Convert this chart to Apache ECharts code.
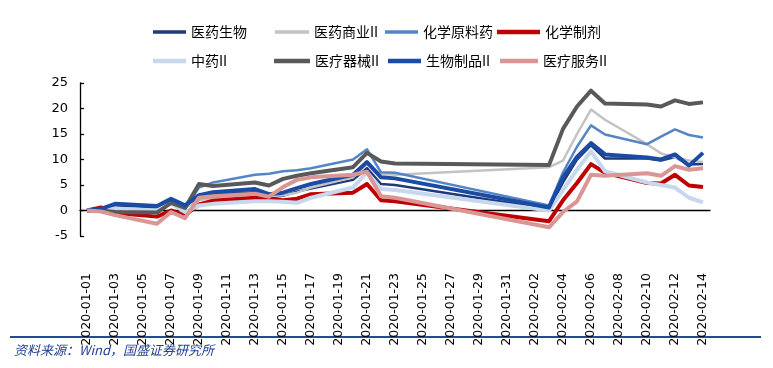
<!DOCTYPE html>
<html>
<head>
<meta charset="utf-8">
<script src="https://cdn.jsdelivr.net/npm/echarts@6/dist/echarts.min.js"></script>
<style>
html,body{margin:0;padding:0;background:#fff;}
#c{width:773px;height:368px;}
</style>
</head>
<body>
<div id="c"></div>
<script>
// all calendar days on the axis
const categories = [
 '2020-01-01','2020-01-02','2020-01-03','2020-01-04','2020-01-05','2020-01-06','2020-01-07','2020-01-08','2020-01-09','2020-01-10',
 '2020-01-11','2020-01-12','2020-01-13','2020-01-14','2020-01-15','2020-01-16','2020-01-17','2020-01-18','2020-01-19','2020-01-20',
 '2020-01-21','2020-01-22','2020-01-23','2020-01-24','2020-01-25','2020-01-26','2020-01-27','2020-01-28','2020-01-29','2020-01-30',
 '2020-01-31','2020-02-01','2020-02-02','2020-02-03','2020-02-04','2020-02-05','2020-02-06','2020-02-07','2020-02-08','2020-02-09',
 '2020-02-10','2020-02-11','2020-02-12','2020-02-13','2020-02-14'
];
// dates with data (trading days)
const tradeDates = [
 '2020-01-01','2020-01-02','2020-01-03','2020-01-06','2020-01-07','2020-01-08','2020-01-09','2020-01-10',
 '2020-01-13','2020-01-14','2020-01-15','2020-01-16','2020-01-17','2020-01-20','2020-01-21','2020-01-22','2020-01-23',
 '2020-02-03','2020-02-04','2020-02-05','2020-02-06','2020-02-07','2020-02-10','2020-02-11','2020-02-12','2020-02-13','2020-02-14'
];
const yiyaoShengwu   = [0,0.2,1.0,0.6,1.8,0.6,2.5,3.2,3.6,2.6,2.9,3.7,4.3,6.0,8.3,5.2,5.0,0.3,5.5,10.0,12.8,10.2,10.2,9.8,10.5,9.0,9.1];
const yiyaoShangye   = [0,0.2,0.4,0.0,1.5,0.5,2.0,2.5,3.0,2.8,3.0,3.5,4.5,6.5,9.0,7.2,7.0,8.5,9.8,15.0,19.8,17.8,13.0,11.2,10.4,9.8,9.5];
const huaxueYuanliao = [0,0.3,0.5,0.2,1.5,0.3,4.5,5.5,7.0,7.2,7.7,7.9,8.3,10.0,12.0,7.5,7.4,1.0,7.5,12.5,16.7,14.9,13.0,14.5,15.9,14.8,14.3];
const huaxueZhiji    = [0,0.6,-0.5,-1.2,0.0,-0.9,1.2,1.9,2.5,2.3,2.0,2.3,3.2,3.5,5.2,2.0,1.8,-2.1,2.0,5.4,9.1,7.4,5.4,5.3,7.0,4.9,4.6];
const zhongyao       = [0,0.1,0.4,0.0,1.4,-0.3,1.0,1.3,1.8,1.8,1.7,1.5,2.5,4.5,7.5,4.2,4.0,0.0,4.0,8.0,11.6,7.7,5.5,5.0,4.5,2.5,1.6];
const yiliaoQixie    = [0,0.0,-0.3,-0.4,1.5,0.5,5.2,4.8,5.5,4.9,6.2,6.8,7.3,8.5,11.3,9.6,9.2,8.9,16.0,20.4,23.5,21.0,20.8,20.4,21.6,20.9,21.2];
const shengwuZhipin  = [0,0.3,1.3,0.9,2.3,1.0,3.0,3.6,4.2,3.2,3.5,4.4,5.2,7.0,9.5,6.5,6.3,0.6,6.5,10.5,13.2,11.0,10.4,10.0,11.0,8.8,11.3];
const yiliaoFuwu     = [0,-0.2,-0.9,-2.6,-0.3,-1.5,2.5,2.8,3.3,2.7,4.6,6.0,6.5,7.0,7.6,2.8,2.5,-3.3,-0.3,1.8,7.0,6.8,7.3,6.8,8.7,8.0,8.3];

const seriesNames = ['医药生物','医药商业II','化学原料药','化学制剂','中药II','医疗器械II','生物制品II','医疗服务II'];
const seriesValues = [yiyaoShengwu,yiyaoShangye,huaxueYuanliao,huaxueZhiji,zhongyao,yiliaoQixie,shengwuZhipin,yiliaoFuwu];
const seriesColors = ['#1f3a78','#c3c3c3','#5585c5','#c00000','#c6d7ee','#595959','#1a4ca6','#d99694'];
const seriesWidths = [2.5,2.5,2.5,4,4,4,4,4];
const yTicks = {min:-5,max:25,interval:5};

function toCat(vals){
  const m = {};
  tradeDates.forEach((d,i)=>{m[d]=vals[i];});
  return categories.map(c => (c in m) ? m[c] : null);
}

const legendPos = [[153,25],[275,25],[385,25],[497,25],[153,54],[274,54],[388,54],[500,54]];
const legendW   = [33,34,33,43,33,36,33,38];
const legendH   = [3.5,3.5,3.5,4.5,4.5,4.5,4.5,4.5];

const chart = echarts.init(document.getElementById('c'));
chart.setOption({
  animation:false,
  backgroundColor:'#fff',
  legend: seriesNames.map((n,i)=>({
    data:[{name:n, icon:'rect'}], left:legendPos[i][0], top:legendPos[i][1],
    itemWidth:legendW[i], itemHeight:legendH[i], itemGap:4,
    textStyle:{fontFamily:'Noto Sans CJK SC',fontSize:14,color:'#000',padding:[0,0,0,0]},
    padding:0, selectedMode:false
  })),
  grid:{left:80,right:63,top:83,bottom:132,containLabel:false},
  xAxis:{
    type:'category', data:categories, boundaryGap:true,
    axisLine:{onZero:true,lineStyle:{color:'#000',width:1.3}},
    axisTick:{inside:true,length:5,interval:1,lineStyle:{color:'#000',width:1.3}},
    axisLabel:{interval:1,rotate:90,margin:37,fontFamily:'DejaVu Sans',fontSize:12.5,color:'#000'},
    splitLine:{show:false}
  },
  yAxis:{
    type:'value', min:yTicks.min, max:yTicks.max, interval:yTicks.interval,
    axisLine:{show:true,onZero:false,lineStyle:{color:'#000',width:1.3}},
    axisTick:{show:true,inside:true,length:4,lineStyle:{color:'#000',width:1.3}},
    axisLabel:{fontFamily:'DejaVu Sans',fontSize:13,color:'#000',margin:12},
    splitLine:{show:false}
  },
  series: seriesNames.map((n,i)=>({
    name:n, type:'line', data:toCat(seriesValues[i]), connectNulls:true,
    symbol:'none', smooth:false,
    lineStyle:{color:seriesColors[i],width:seriesWidths[i],join:'round'},
    itemStyle:{color:seriesColors[i]}
  })),
  graphic:[
    {type:'line',shape:{x1:10,y1:337,x2:761,y2:337},style:{stroke:'#1f4e96',lineWidth:2}},
    {type:'text',left:14,top:344,style:{text:'资料来源：Wind，国盛证券研究所',fontFamily:'Noto Sans CJK SC',fontSize:13,fontStyle:'italic',fill:'#1f3f8f'}}
  ]
});
</script>
</body>
</html>
